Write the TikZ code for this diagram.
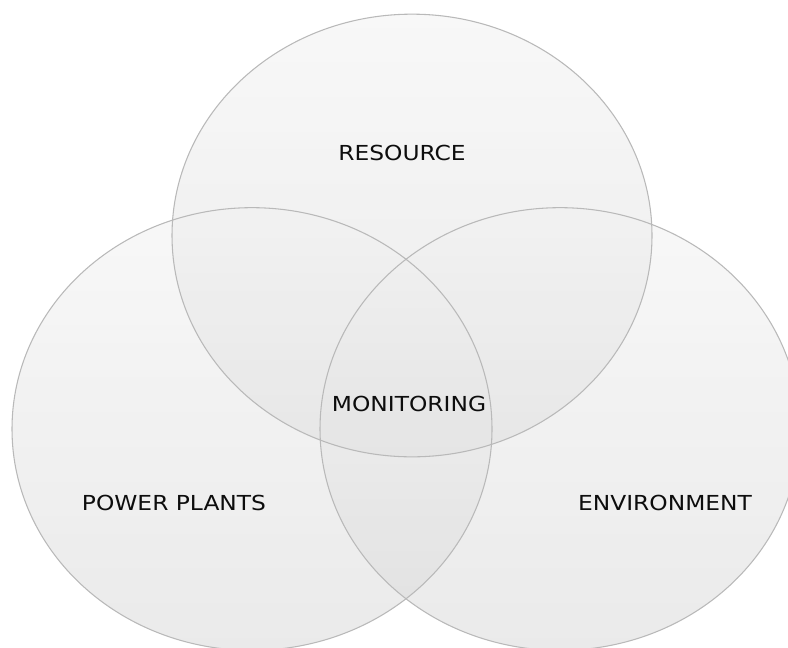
\documentclass[tikz,border=0pt]{standalone}
\usepackage{fontspec}
\setmainfont{DejaVu Sans}
\tikzset{
  setfill/.style={top color=gray!10, bottom color=gray!30, fill opacity=0.55},
  setline/.style={draw=gray!55, line width=0.8pt},
  setlabel/.style={font=\fontsize{15.5pt}{18pt}\selectfont, text=gray!10!black, xscale=1.13, transform shape, inner sep=0pt}
}
\begin{document}
\begin{tikzpicture}[x=0.75pt,y=-0.75pt]
  % Frame
  \useasboundingbox (0,0) rectangle (788,647);

  % Three overlapping sets
  \shade[setfill] (412,235.5) ellipse [x radius=180pt, y radius=166pt];
  \shade[setfill] (252,429) ellipse [x radius=180pt, y radius=166pt];
  \shade[setfill] (560,429) ellipse [x radius=180pt, y radius=166pt];

  % Outlines
  \draw[setline] (412,235.5) ellipse [x radius=180pt, y radius=166pt];
  \draw[setline] (252,429) ellipse [x radius=180pt, y radius=166pt];
  \draw[setline] (560,429) ellipse [x radius=180pt, y radius=166pt];

  % Labels
  \node[setlabel] (resource) at (402,153) {RESOURCE};
  \node[setlabel] (monitoring) at (409,404) {MONITORING};
  \node[setlabel] (plants) at (174,503) {POWER PLANTS};
  \node[setlabel] (environment) at (665,503) {ENVIRONMENT};

\end{tikzpicture}
\end{document}
